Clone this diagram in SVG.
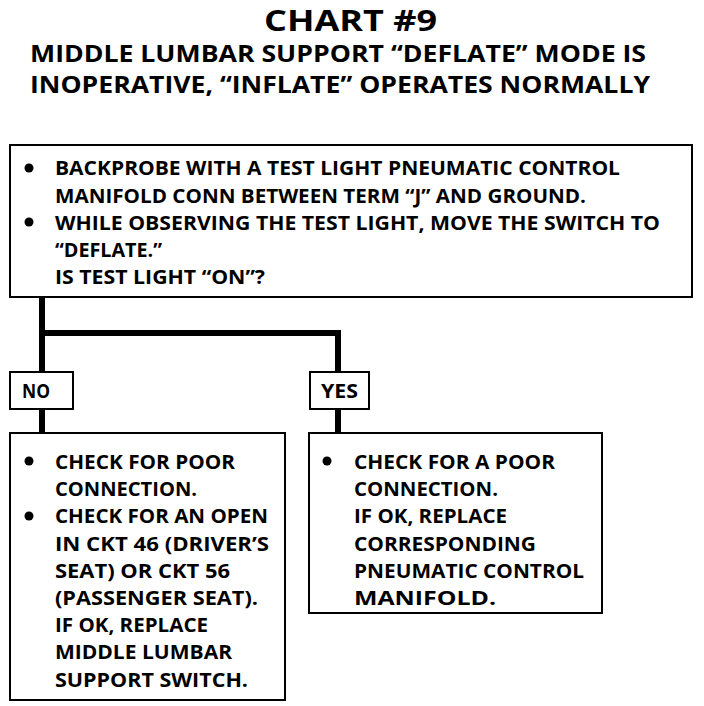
<svg xmlns="http://www.w3.org/2000/svg" width="704" height="706" viewBox="0 0 704 706">
<style>
text{font-family:"Open Sans","Liberation Sans",Arial,sans-serif;font-weight:bold;fill:#000}
.t1{font-size:29px}
.t2{font-size:24px}
.b{font-size:20px}
.box{fill:#fff;stroke:#000;stroke-width:2}
.con{fill:none;stroke:#000;stroke-width:6}
</style>
<rect width="704" height="706" fill="#fff"/>
<g id="title">
<text class="t1" x="264" y="31" textLength="173" lengthAdjust="spacingAndGlyphs">CHART #9</text>
<text class="t2" x="30" y="62" textLength="616" lengthAdjust="spacingAndGlyphs">MIDDLE LUMBAR SUPPORT “DEFLATE” MODE IS</text>
<text class="t2" x="30" y="93" textLength="620" lengthAdjust="spacingAndGlyphs">INOPERATIVE, “INFLATE” OPERATES NORMALLY</text>
</g>
<g id="connectors">
<path class="con" d="M42 297V372M42 333H338V372M42 409V433M338 409V433"/>
</g>
<g id="start">
<rect class="box" x="10" y="145" width="682" height="152"/>
<circle cx="29" cy="168" r="4.5"/>
<text class="b" x="55" y="175" textLength="565" lengthAdjust="spacingAndGlyphs">BACKPROBE WITH A TEST LIGHT PNEUMATIC CONTROL</text>
<text class="b" x="55" y="203" textLength="531" lengthAdjust="spacingAndGlyphs">MANIFOLD CONN BETWEEN TERM “J” AND GROUND.</text>
<circle cx="29" cy="222" r="4.5"/>
<text class="b" x="55" y="230" textLength="605" lengthAdjust="spacingAndGlyphs">WHILE OBSERVING THE TEST LIGHT, MOVE THE SWITCH TO</text>
<text class="b" x="55" y="257" textLength="107" lengthAdjust="spacingAndGlyphs">“DEFLATE.”</text>
<text class="b" x="55" y="284" textLength="210" lengthAdjust="spacingAndGlyphs">IS TEST LIGHT “ON”?</text>
</g>
<g id="no">
<rect class="box" x="10" y="372" width="63" height="37"/>
<text class="b" x="22" y="398" textLength="28" lengthAdjust="spacingAndGlyphs">NO</text>
</g>
<g id="yes">
<rect class="box" x="310" y="372" width="59" height="37"/>
<text class="b" x="321" y="398" textLength="37" lengthAdjust="spacingAndGlyphs">YES</text>
</g>
<g id="no-action">
<rect class="box" x="10" y="433" width="275" height="267"/>
<circle cx="29" cy="461" r="4.5"/>
<text class="b" x="55" y="469" textLength="180" lengthAdjust="spacingAndGlyphs">CHECK FOR POOR</text>
<text class="b" x="55" y="496" textLength="142" lengthAdjust="spacingAndGlyphs">CONNECTION.</text>
<circle cx="29" cy="516" r="4.5"/>
<text class="b" x="55" y="523" textLength="213" lengthAdjust="spacingAndGlyphs">CHECK FOR AN OPEN</text>
<text class="b" x="55" y="551" textLength="214" lengthAdjust="spacingAndGlyphs">IN CKT 46 (DRIVER’S</text>
<text class="b" x="55" y="578" textLength="175" lengthAdjust="spacingAndGlyphs">SEAT) OR CKT 56</text>
<text class="b" x="55" y="605" textLength="203" lengthAdjust="spacingAndGlyphs">(PASSENGER SEAT).</text>
<text class="b" x="55" y="632" textLength="153" lengthAdjust="spacingAndGlyphs">IF OK, REPLACE</text>
<text class="b" x="55" y="659" textLength="177" lengthAdjust="spacingAndGlyphs">MIDDLE LUMBAR</text>
<text class="b" x="55" y="687" textLength="193" lengthAdjust="spacingAndGlyphs">SUPPORT SWITCH.</text>
</g>
<g id="yes-action">
<rect class="box" x="309" y="433" width="293" height="180"/>
<circle cx="327" cy="461" r="4.5"/>
<text class="b" x="354" y="469" textLength="201" lengthAdjust="spacingAndGlyphs">CHECK FOR A POOR</text>
<text class="b" x="354" y="496" textLength="144" lengthAdjust="spacingAndGlyphs">CONNECTION.</text>
<text class="b" x="354" y="523" textLength="153" lengthAdjust="spacingAndGlyphs">IF OK, REPLACE</text>
<text class="b" x="354" y="551" textLength="182" lengthAdjust="spacingAndGlyphs">CORRESPONDING</text>
<text class="b" x="354" y="578" textLength="230" lengthAdjust="spacingAndGlyphs">PNEUMATIC CONTROL</text>
<text class="b" x="354" y="605" textLength="142" lengthAdjust="spacingAndGlyphs">MANIFOLD.</text>
</g>
</svg>
